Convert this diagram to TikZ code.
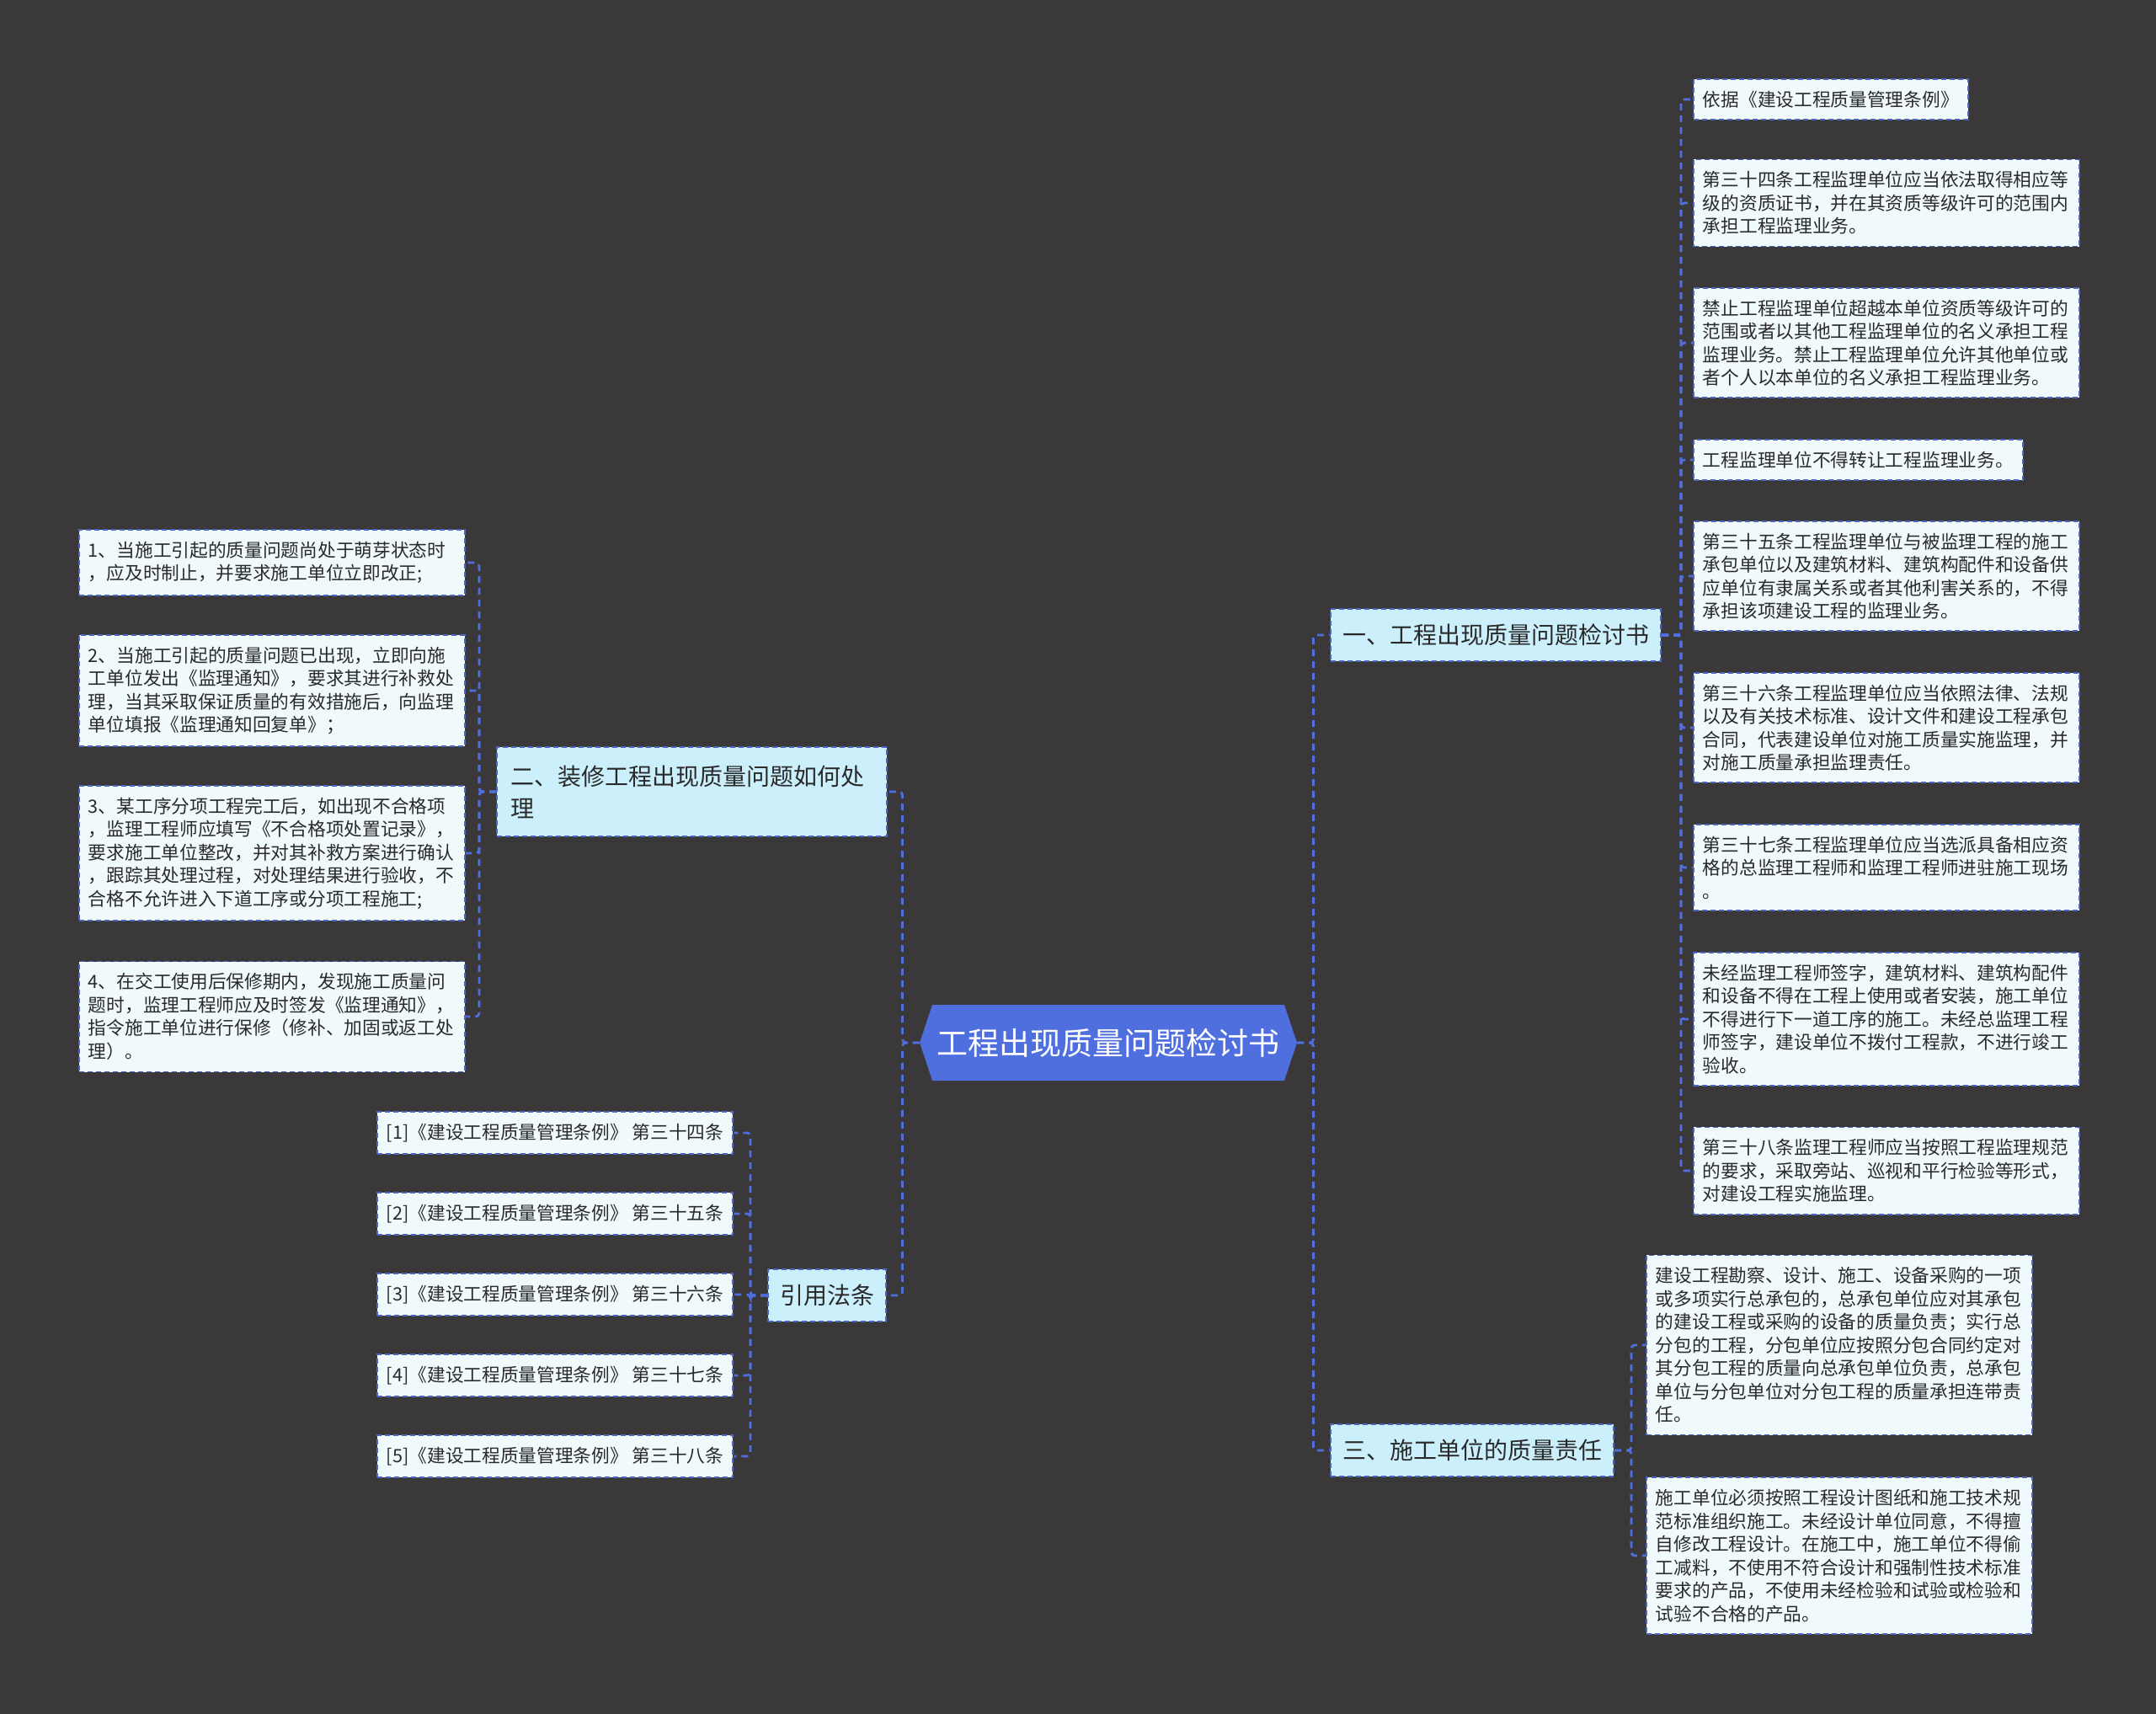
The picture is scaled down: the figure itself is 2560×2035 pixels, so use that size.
\documentclass[tikz,border=0pt]{standalone}
\usepackage{fontspec}
\setmainfont{Noto Sans CJK SC}
\usetikzlibrary{shapes.symbols}
\definecolor{bgdark}{HTML}{3A3839}
\definecolor{rootblue}{HTML}{4F6FDF}
\definecolor{branchfill}{HTML}{CCEFFC}
\definecolor{leaffill}{HTML}{F0FAFD}
\definecolor{linkblue}{HTML}{4F6FE0}
\definecolor{boxline}{HTML}{4C66C4}
\definecolor{textdark}{HTML}{2A2A2A}
\tikzset{
  rootnode/.style={signal,signal to=east and west,signal pointer angle=143,fill=rootblue,text=white,font=\fontsize{18.5}{22}\selectfont,minimum width=224pt,minimum height=45pt,inner sep=0pt},
  branch/.style={draw=boxline,dash pattern=on 3pt off 2pt,line width=1pt,fill=branchfill,text=textdark,font=\fontsize{14}{19}\selectfont,inner xsep=7pt,inner ysep=9pt,align=left,anchor=west},
  leaf/.style={draw=boxline,dash pattern=on 3pt off 2pt,line width=0.9pt,fill=leaffill,text=textdark,font=\fontsize{10.85}{13.75}\selectfont,inner xsep=5.5pt,inner ysep=7pt,align=left,anchor=west},
  wide/.style={text width=218pt},
  link/.style={draw=linkblue,line width=1.4pt,dash pattern=on 4pt off 3pt,rounded corners=2pt}
}
\begin{document}
\begin{tikzpicture}[x=0.5pt,y=-0.5pt]
\fill[bgdark] (0,0) rectangle (2560,2035);
\useasboundingbox (0,0) rectangle (2560,2035);
% centre
\node[rootnode] (root) at (1316,1238) {工程出现质量问题检讨书};
% right side
\node[branch] (b1) at (1579,754) {一、工程出现质量问题检讨书};
\node[branch] (b3) at (1579,1722) {三、施工单位的质量责任};
\node[leaf] (r1) at (2010,118) {依据《建设工程质量管理条例》};
\node[leaf,wide] (r2) at (2010,241) {第三十四条工程监理单位应当依法取得相应等\\级的资质证书，并在其资质等级许可的范围内\\承担工程监理业务。};
\node[leaf,wide] (r3) at (2010,407) {禁止工程监理单位超越本单位资质等级许可的\\范围或者以其他工程监理单位的名义承担工程\\监理业务。禁止工程监理单位允许其他单位或\\者个人以本单位的名义承担工程监理业务。};
\node[leaf] (r4) at (2010,546) {工程监理单位不得转让工程监理业务。};
\node[leaf,wide] (r5) at (2010,684) {第三十五条工程监理单位与被监理工程的施工\\承包单位以及建筑材料、建筑构配件和设备供\\应单位有隶属关系或者其他利害关系的，不得\\承担该项建设工程的监理业务。};
\node[leaf,wide] (r6) at (2010,864) {第三十六条工程监理单位应当依照法律、法规\\以及有关技术标准、设计文件和建设工程承包\\合同，代表建设单位对施工质量实施监理，并\\对施工质量承担监理责任。};
\node[leaf,wide] (r7) at (2010,1030) {第三十七条工程监理单位应当选派具备相应资\\格的总监理工程师和监理工程师进驻施工现场\\。};
\node[leaf,wide] (r8) at (2010,1210) {未经监理工程师签字，建筑材料、建筑构配件\\和设备不得在工程上使用或者安装，施工单位\\不得进行下一道工序的施工。未经总监理工程\\师签字，建设单位不拨付工程款，不进行竣工\\验收。};
\node[leaf,wide] (r9) at (2010,1390) {第三十八条监理工程师应当按照工程监理规范\\的要求，采取旁站、巡视和平行检验等形式，\\对建设工程实施监理。};
\node[leaf,wide] (s1) at (1954,1597) {建设工程勘察、设计、施工、设备采购的一项\\或多项实行总承包的，总承包单位应对其承包\\的建设工程或采购的设备的质量负责；实行总\\分包的工程，分包单位应按照分包合同约定对\\其分包工程的质量向总承包单位负责，总承包\\单位与分包单位对分包工程的质量承担连带责\\任。};
\node[leaf,wide] (s2) at (1954,1847) {施工单位必须按照工程设计图纸和施工技术规\\范标准组织施工。未经设计单位同意，不得擅\\自修改工程设计。在施工中，施工单位不得偷\\工减料，不使用不符合设计和强制性技术标准\\要求的产品，不使用未经检验和试验或检验和\\试验不合格的产品。};
% left side
\node[branch,text width=215.5pt,inner xsep=8pt,inner ysep=11pt] (b2) at (589,940) {二、装修工程出现质量问题如何处\\理};
\node[branch] (cite) at (911,1538) {引用法条};
\node[leaf,wide] (l1) at (93,668) {1、当施工引起的质量问题尚处于萌芽状态时\\，应及时制止，并要求施工单位立即改正;};
\node[leaf,wide] (l2) at (93,820) {2、当施工引起的质量问题已出现，立即向施\\工单位发出《监理通知》，要求其进行补救处\\理，当其采取保证质量的有效措施后，向监理\\单位填报《监理通知回复单》；};
\node[leaf,wide] (l3) at (93,1013) {3、某工序分项工程完工后，如出现不合格项\\，监理工程师应填写《不合格项处置记录》，\\要求施工单位整改，并对其补救方案进行确认\\，跟踪其处理过程，对处理结果进行验收，不\\合格不允许进入下道工序或分项工程施工;};
\node[leaf,wide] (l4) at (93,1207) {4、在交工使用后保修期内，发现施工质量问\\题时，监理工程师应及时签发《监理通知》，\\指令施工单位进行保修（修补、加固或返工处\\理）。};
\foreach \k/\num in {1/四,2/五,3/六,4/七,5/八}
  \node[leaf] (c\k) at (447,1249+96*\k) {[\k]《建设工程质量管理条例》 第三十\num 条};
% connectors
\draw[link] (root.east) -- ++(19,0) |- (b1.west);
\draw[link] (root.east) -- ++(19,0) |- (b3.west);
\draw[link] (root.west) -- ++(-20,0) |- (b2.east);
\draw[link] (root.west) -- ++(-20,0) |- (cite.east);
\foreach \n in {r1,r2,r3,r4,r5,r6,r7,r8,r9}
  \draw[link] (b1.east) -- ++(23,0) |- (\n.west);
\foreach \n in {s1,s2}
  \draw[link] (b3.east) -- ++(20,0) |- (\n.west);
\foreach \n in {l1,l2,l3,l4}
  \draw[link] (b2.west) -- ++(-20,0) |- (\n.east);
\foreach \k in {1,...,5}
  \draw[link] (cite.west) -- ++(-20,0) |- (c\k.east);
\end{tikzpicture}
\end{document}
